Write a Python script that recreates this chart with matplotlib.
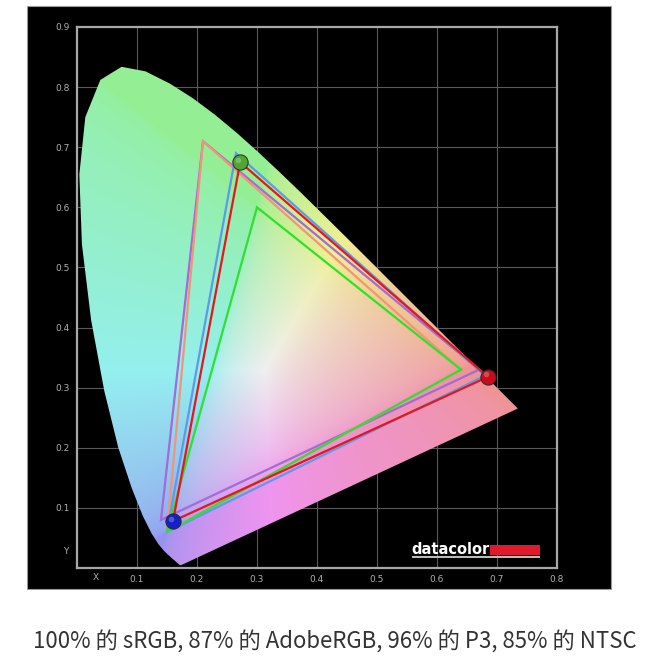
import matplotlib
matplotlib.use("Agg")
import matplotlib.pyplot as plt
import numpy as np
from matplotlib.patches import Polygon, Rectangle

plt.rcParams["font.family"] = ["Noto Sans CJK SC", "DejaVu Sans"]

# CIE 1931 spectral locus (x, y), 380..700 nm
locus_x = [0.1741, 0.1740, 0.1738, 0.1736, 0.1733, 0.1730, 0.1726, 0.1721, 0.1714, 0.1703,
           0.1689, 0.1669, 0.1644, 0.1611, 0.1566, 0.1510, 0.1440, 0.1355, 0.1241, 0.1096,
           0.0913, 0.0687, 0.0454, 0.0235, 0.0082, 0.0039, 0.0139, 0.0389, 0.0743, 0.1142,
           0.1547, 0.1929, 0.2296, 0.2658, 0.3016, 0.3373, 0.3731, 0.4087, 0.4441, 0.4788,
           0.5125, 0.5448, 0.5752, 0.6029, 0.6270, 0.6482, 0.6658, 0.6801, 0.6915, 0.7006,
           0.7079, 0.7140, 0.7190, 0.7230, 0.7260, 0.7283, 0.7300, 0.7311, 0.7320, 0.7334,
           0.7344, 0.7347]
locus_y = [0.0050, 0.0050, 0.0049, 0.0049, 0.0048, 0.0048, 0.0048, 0.0048, 0.0051, 0.0058,
           0.0069, 0.0086, 0.0109, 0.0138, 0.0177, 0.0227, 0.0297, 0.0399, 0.0578, 0.0868,
           0.1327, 0.2007, 0.2950, 0.4127, 0.5384, 0.6548, 0.7502, 0.8120, 0.8338, 0.8262,
           0.8059, 0.7816, 0.7543, 0.7243, 0.6923, 0.6589, 0.6245, 0.5896, 0.5547, 0.5202,
           0.4866, 0.4544, 0.4242, 0.3965, 0.3725, 0.3514, 0.3340, 0.3197, 0.3083, 0.2993,
           0.2920, 0.2859, 0.2809, 0.2770, 0.2740, 0.2717, 0.2700, 0.2689, 0.2680, 0.2666,
           0.2656, 0.2653]

# gamut triangles (R, G, B)
gamut_names = ["NTSC", "AdobeRGB", "P3", "sRGB", "Display"]
gamut_x = [[0.67, 0.21, 0.14], [0.64, 0.21, 0.15], [0.68, 0.265, 0.15],
           [0.64, 0.30, 0.15], [0.685, 0.272, 0.160]]
gamut_y = [[0.33, 0.71, 0.08], [0.33, 0.71, 0.06], [0.32, 0.69, 0.06],
           [0.33, 0.60, 0.06], [0.318, 0.675, 0.078]]
gamut_colors = ["#a46ad6", "#f39478", "#5b9be8", "#30e030", "#e8141e"]

tick_vals_x = [0.1, 0.2, 0.3, 0.4, 0.5, 0.6, 0.7, 0.8]
tick_vals_y = [0.1, 0.2, 0.3, 0.4, 0.5, 0.6, 0.7, 0.8, 0.9]
caption = "100% 的 sRGB, 87% 的 AdobeRGB, 96% 的 P3, 85% 的 NTSC"

W, H = 660, 665


def fx(px):
    return px / W


def fy(py):
    return 1 - py / H


fig = plt.figure(figsize=(6.6, 6.65), dpi=100, facecolor="white")

# black panel
fig.patches.append(Rectangle((fx(27), fy(589)), fx(611) - fx(27), fy(6) - fy(589),
                             transform=fig.transFigure, facecolor="black",
                             edgecolor="#9a9a9a", linewidth=0.8, zorder=-1))

ax = fig.add_axes([fx(77), fy(568), fx(557) - fx(77), fy(27) - fy(568)])
ax.set_facecolor("black")
ax.set_xlim(0, 0.8)
ax.set_ylim(0, 0.9)

# chromaticity fill
gx, gy = np.meshgrid(np.linspace(0, 0.8, 500), np.linspace(0, 0.9, 560))
gz = 1 - gx - gy
XYZ = np.stack([gx, gy, gz], axis=-1)
M = np.array([[3.2406, -1.5372, -0.4986],
              [-0.9689, 1.8758, 0.0415],
              [0.0557, -0.2040, 1.0570]])
rgb = XYZ @ M.T
rgb = np.clip(rgb, 0, None)
rgb = rgb / np.maximum(rgb.max(axis=-1, keepdims=True), 1e-6)
rgb = rgb ** (1 / 2.2)
rgb = rgb * 0.38 + 0.62
rgb = rgb * 0.94
im = ax.imshow(rgb, origin="lower", extent=(0, 0.8, 0, 0.9), aspect="auto",
               zorder=1, interpolation="bilinear")
horseshoe = Polygon(np.column_stack([locus_x, locus_y]), closed=True,
                    transform=ax.transData, facecolor="none", edgecolor="none")
ax.add_patch(horseshoe)
im.set_clip_path(horseshoe)

for gxs, gys, col in zip(gamut_x, gamut_y, gamut_colors):
    ax.plot(gxs + gxs[:1], gys + gys[:1], color=col, lw=1.6, zorder=3,
            solid_joinstyle="miter")

# primaries of the measured display, little shaded balls
ball_colors = ["#c80c1a", "#4fa632", "#1520c8"]
for bx, by, bc in zip(gamut_x[-1], gamut_y[-1], ball_colors):
    ax.plot(bx, by, "o", ms=11, color=bc, mec="#2a2a2a", mew=0.7, zorder=5)
    ax.plot(bx - 0.003, by + 0.004, "o", ms=4, color="white", alpha=0.25,
            mec="none", zorder=6)

ax.set_axisbelow(True)
ax.grid(True, color="#5a5a5a", lw=0.8)
ax.set_xticks(tick_vals_x)
ax.set_yticks(tick_vals_y)
ax.set_xticklabels([f"{v:.1f}" for v in tick_vals_x])
ax.set_yticklabels([f"{v:.1f}" for v in tick_vals_y])
ax.tick_params(colors="#b0b0b0", labelsize=6.5, length=0, pad=5,
               labelfontfamily="DejaVu Sans")
for s in ax.spines.values():
    s.set_color("#a8a8a8")
    s.set_linewidth(1.6)

fig.text(fx(96), fy(577), "X", color="#b0b0b0", fontsize=6.5, ha="center",
         va="center", family="DejaVu Sans")
fig.text(fx(68), fy(552), "Y", color="#b0b0b0", fontsize=6.5, ha="right",
         va="center", family="DejaVu Sans")

# datacolor logo
fig.text(fx(411), fy(549), "datacolor", color="white", fontsize=10.5,
         fontweight="bold", ha="left", va="center", family="DejaVu Sans")
fig.patches.append(Rectangle((fx(490), fy(555)), fx(540) - fx(490), fy(545) - fy(555),
                             transform=fig.transFigure, facecolor="#e01a2c",
                             edgecolor="none", zorder=5))
fig.patches.append(Rectangle((fx(412), fy(557.5)), fx(540) - fx(412), fy(556) - fy(557.5),
                             transform=fig.transFigure, facecolor="#bbbbbb",
                             edgecolor="none", zorder=5))

fig.text(fx(335), fy(642), caption, color="#333333", fontsize=16,
         ha="center", va="center")

fig.savefig("out.png", dpi=100, facecolor="white")
